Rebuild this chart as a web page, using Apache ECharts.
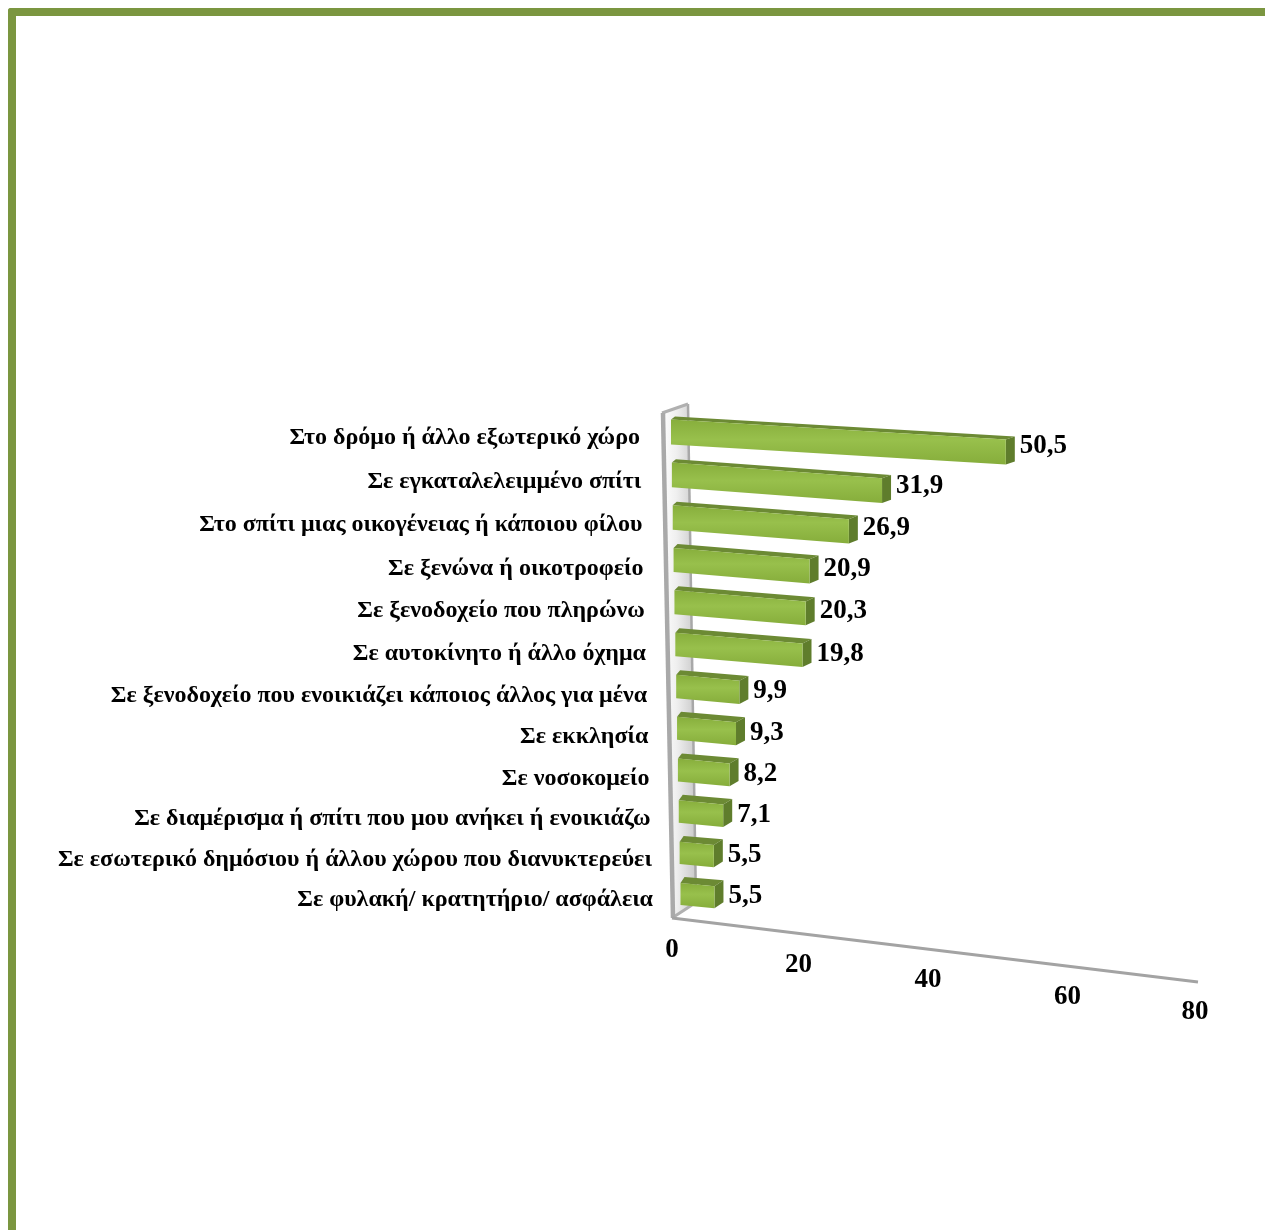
<!DOCTYPE html>
<html>
<head>
<meta charset="utf-8">
<style>html,body{margin:0;padding:0;background:#fff}#c{width:1265px;height:1230px}</style>
<script src="https://cdn.jsdelivr.net/npm/echarts@6/dist/echarts.min.js"></script>
</head>
<body>
<div id="c"></div>
<script>
const categories = [
  "Στο δρόμο ή άλλο εξωτερικό χώρο",
  "Σε εγκαταλελειμμένο σπίτι",
  "Στο σπίτι μιας οικογένειας ή κάποιου φίλου",
  "Σε ξενώνα ή οικοτροφείο",
  "Σε ξενοδοχείο που πληρώνω",
  "Σε αυτοκίνητο ή άλλο όχημα",
  "Σε ξενοδοχείο που ενοικιάζει κάποιος άλλος για μένα",
  "Σε εκκλησία",
  "Σε νοσοκομείο",
  "Σε διαμέρισμα ή σπίτι που μου ανήκει ή ενοικιάζω",
  "Σε εσωτερικό δημόσιου ή άλλου χώρου που διανυκτερεύει",
  "Σε φυλακή/ κρατητήριο/ ασφάλεια"
];
const values = [50.5, 31.9, 26.9, 20.9, 20.3, 19.8, 9.9, 9.3, 8.2, 7.1, 5.5, 5.5];
const valueTicks = [0, 20, 40, 60, 80];

const FONT = '"Liberation Serif","Times New Roman",serif';
const GRID = {left: 671, top: 411, width: 520, height: 504};
const Y0 = GRID.top + GRID.height / 24;
const YSPAN = GRID.height * 11 / 12;

// The chart is a tilted 3D view: this maps flat grid pixels onto the tilted plane.
function tilt(p) {
  const t = (p[1] - Y0) / YSPAN;
  const dx = (p[0] - GRID.left) * (1.02 - 0.07 * t);
  const x = GRID.left + 9.5 * t + dx;
  const y = p[1] + 10 * t * (1 - t) + dx * 0.1 - 1.2e-4 * dx * dx;
  return [x, y, t];
}
function tiltBase(p) {
  const t = (p[1] - Y0) / YSPAN;
  return [GRID.left + 9.5 * t, p[1] + 10 * t * (1 - t), t];
}

function renderBar(params, api) {
  const v = api.value(0), i = api.value(1);
  const c = api.coord([v, i]);
  const c0 = api.coord([0, i]);
  const end = tilt(c), start = tiltBase(c0);
  const t = end[2];
  const h = 12.5 - 1.5 * t;
  const dy = -3 - 3 * t, dx = 9, dxl = 4;
  const tl = [start[0], start[1] - h], bl = [start[0], start[1] + h];
  const tr = [end[0], end[1] - h], br = [end[0], end[1] + h];
  const poly = (pts, fill) => ({type: 'polygon', shape: {points: pts}, style: {fill}});
  const front = new echarts.graphic.LinearGradient(0, 0, 0, 1, [
    {offset: 0, color: '#87ae3c'}, {offset: 0.45, color: '#98c04c'}, {offset: 1, color: '#86ad3b'}
  ]);
  return {type: 'group', children: [
    poly([tl, [tl[0] + dxl, tl[1] + dy], [tr[0] + dx, tr[1] + dy], tr], '#6c8a34'),
    poly([tr, [tr[0] + dx, tr[1] + dy], [br[0] + dx, br[1] + dy], br], '#5f7d2c'),
    poly([tl, tr, br, bl], front),
    {type: 'text', style: {
      x: end[0] + dx + 5, y: end[1] - 5.5 + 4.5 * t + 8 * t * (1 - t),
      text: String(v).replace('.', ','), fill: '#000',
      font: 'bold 27px ' + FONT, align: 'left', verticalAlign: 'middle'
    }}
  ]};
}

function renderCategoryLabel(params, api) {
  const i = api.value(1);
  const b = tiltBase(api.coord([0, i]));
  const t = b[2];
  return {type: 'text', style: {
    x: b[0] - 31 + 3.5 * t, y: b[1] + 6 + 12 * t * (1 - t),
    text: categories[i], fill: '#000',
    font: 'bold 24px ' + FONT, align: 'right', verticalAlign: 'middle'
  }};
}

function floorPoint(v, api) {
  const p = api.coord([v, 11]);
  const x = 672 + (p[0] - GRID.left) * 1.0115;
  return [x, 918 + 0.1217 * (x - 672)];
}
function renderAxisLine(params, api) {
  const a = floorPoint(0, api), b = floorPoint(80, api);
  return {type: 'line', shape: {x1: a[0], y1: a[1], x2: b[0], y2: b[1]},
    style: {stroke: '#a3a3a3', lineWidth: 3}};
}
const tickNudge = {0: 0, 20: -5, 40: -7, 60: 1, 80: -3};
function renderTick(params, api) {
  const v = api.value(0);
  const p = floorPoint(v, api);
  const x = p[0] + tickNudge[v];
  return {type: 'text', style: {
    x, y: 950 + 0.118 * (x - 672), text: String(v), fill: '#000',
    font: 'bold 27px ' + FONT, align: 'center', verticalAlign: 'middle'
  }};
}

const wallFill = new echarts.graphic.LinearGradient(0, 0, 1, 0, [
  {offset: 0, color: '#ffffff'}, {offset: 0.45, color: '#efefef'}, {offset: 1, color: '#c9c9c9'}
]);
const GREEN = '#7b9640';

const chart = echarts.init(document.getElementById('c'), null, {renderer: 'canvas'});
chart.setOption({
  animation: false,
  backgroundColor: '#fff',
  grid: GRID,
  xAxis: {type: 'value', min: 0, max: 80, interval: 20, show: false},
  yAxis: {type: 'category', inverse: true, data: categories, show: false},
  graphic: [
    {type: 'rect', z: 0, shape: {x: 8, y: 8, width: 1257, height: 8, r: [3, 0, 0, 0]}, style: {fill: GREEN}},
    {type: 'rect', z: 0, shape: {x: 8, y: 8, width: 8, height: 1222, r: [3, 0, 0, 0]}, style: {fill: GREEN}},
    {type: 'polygon', z: 0, shape: {points: [[661, 413], [688, 403], [696, 903], [672, 918]]}, style: {fill: wallFill}},
    {type: 'polyline', z: 0, shape: {points: [[688, 404], [696, 903]]}, style: {stroke: '#a8a8a8', lineWidth: 2.5, fill: 'none'}},
    {type: 'polyline', z: 0, shape: {points: [[662, 413], [688, 404]]}, style: {stroke: '#b0b0b0', lineWidth: 3, fill: 'none'}},
    {type: 'polyline', z: 0, shape: {points: [[672, 918], [692, 905]]}, style: {stroke: '#b0b0b0', lineWidth: 3, fill: 'none'}},
    {type: 'polyline', z: 0, shape: {points: [[663, 413], [673, 918]]}, style: {stroke: '#a9a9a9', lineWidth: 4.5, fill: 'none'}}
  ],
  series: [
    {type: 'custom', name: 'axis', coordinateSystem: 'cartesian2d', z: 2, data: [[0, 11]], renderItem: renderAxisLine, silent: true},
    {type: 'custom', name: 'ticks', coordinateSystem: 'cartesian2d', z: 3, data: valueTicks.map(v => [v, 11]), renderItem: renderTick, silent: true},
    {type: 'custom', name: 'labels', coordinateSystem: 'cartesian2d', z: 3, data: values.map((v, i) => [0, i]), renderItem: renderCategoryLabel, silent: true},
    {type: 'custom', name: 'bars', coordinateSystem: 'cartesian2d', z: 4, data: values.map((v, i) => [v, i]), renderItem: renderBar, silent: true}
  ]
});
</script>
</body>
</html>
